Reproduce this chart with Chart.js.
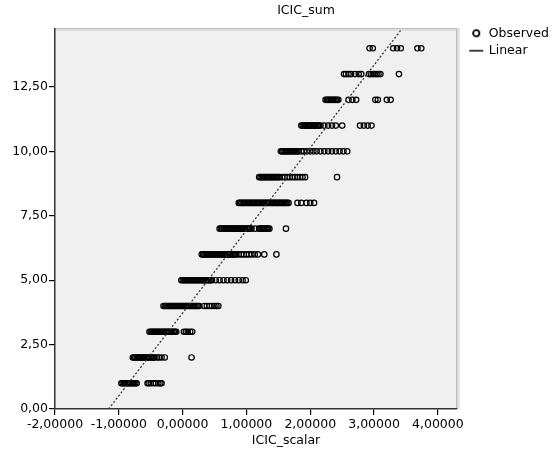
<!DOCTYPE html>
<html><head><meta charset="utf-8">
<script src="https://cdn.jsdelivr.net/npm/chart.js@4/dist/chart.umd.min.js"></script>
<style>html,body{margin:0;padding:0;background:#fff}</style>
</head><body>
<canvas id="c" width="553" height="453"></canvas>
<script>
// ---- data ----
const yLevels = [1,2,3,4,5,6,7,8,9,10,11,12,13,14];
const row1  = [-0.96,-0.94,-0.92,-0.90,-0.88,-0.86,-0.84,-0.82,-0.80,-0.78,-0.76,-0.74,-0.72,
               -0.55,-0.53,-0.50,-0.46,-0.42,-0.38,-0.35,-0.33];
const row2  = [-0.78,-0.76,-0.74,-0.72,-0.70,-0.68,-0.66,-0.64,-0.62,-0.60,-0.58,-0.56,-0.54,-0.52,-0.50,-0.48,-0.46,-0.44,
               -0.40,-0.37,-0.33,-0.28,0.14];
const row3  = [-0.52,-0.50,-0.48,-0.46,-0.44,-0.42,-0.40,-0.38,-0.36,-0.34,-0.32,-0.30,-0.28,-0.26,-0.24,-0.22,-0.20,-0.18,-0.16,-0.14,-0.12,-0.10,
               0.02,0.05,0.08,0.12,0.15];
const row4  = [-0.30,-0.28,-0.26,-0.24,-0.22,-0.20,-0.18,-0.16,-0.14,-0.12,-0.10,-0.08,-0.06,-0.04,-0.02,0.00,0.02,0.04,0.06,0.08,0.10,0.12,0.14,0.16,0.18,0.20,0.22,0.24,0.26,
               0.34,0.38,0.42,0.46,0.50,0.53,0.56];
const row5  = [-0.02,0.00,0.02,0.04,0.06,0.08,0.10,0.12,0.14,0.16,0.18,0.20,0.22,0.24,0.26,0.28,0.30,0.32,0.34,0.36,0.38,0.40,0.42,0.44,0.46,
               0.52,0.58,0.64,0.70,0.76,0.82,0.88,0.94,0.99];
const row6  = [0.30,0.32,0.34,0.36,0.38,0.40,0.42,0.44,0.46,0.48,0.50,0.52,0.54,0.56,0.58,0.60,0.62,0.64,0.66,0.68,0.70,0.72,0.74,0.76,0.78,0.80,0.82,0.84,
               0.88,0.92,0.96,1.00,1.04,1.08,1.13,1.18,1.28,1.47];
const row7  = [0.58,0.60,0.62,0.64,0.66,0.68,0.70,0.72,0.74,0.76,0.78,0.80,0.82,0.84,0.86,0.88,0.90,0.92,0.94,0.96,0.98,1.00,1.02,1.04,1.06,1.08,
               1.14,1.20,1.22,1.24,1.26,1.28,1.30,1.32,1.34,1.36,1.62];
const row8  = [0.88,0.90,0.92,0.94,0.96,0.98,1.00,1.02,1.04,1.06,1.08,1.10,1.12,1.14,1.16,1.18,1.20,1.22,1.24,1.26,1.28,1.30,1.32,1.34,1.36,1.38,1.40,
               1.42,1.44,1.46,1.48,1.50,1.52,1.54,1.56,1.58,1.60,1.62,1.64,1.66,
               1.80,1.86,1.94,2.00,2.06];
const row9  = [1.20,1.22,1.24,1.26,1.28,1.30,1.32,1.34,1.36,1.38,1.40,1.42,1.44,1.46,1.48,1.50,1.52,
               1.56,1.60,1.64,1.68,1.72,1.76,1.80,1.84,1.88,1.92,2.42];
const row10 = [1.54,1.56,1.58,1.60,1.62,1.64,1.66,1.68,1.70,1.72,1.74,1.76,1.78,1.80,1.82,
               1.86,1.90,1.95,2.00,2.05,2.10,2.16,2.22,2.28,2.34,2.40,2.46,2.52,2.58];
const row11 = [1.86,1.88,1.90,1.92,1.94,1.96,1.98,2.00,2.02,2.04,2.06,2.08,2.10,2.12,2.14,2.16,
               2.22,2.28,2.34,2.40,2.50,2.78,2.84,2.90,2.96];
const row12 = [2.24,2.26,2.28,2.30,2.32,2.34,2.36,2.38,2.40,2.42,2.44,2.60,2.66,2.72,3.02,3.06,3.20,3.26];
const row13 = [2.53,2.56,2.60,2.64,2.70,2.76,2.80,2.92,2.95,2.98,3.01,3.04,3.07,3.10,3.39];
const row14 = [2.93,2.98,3.30,3.36,3.42,3.68,3.74];
const rows = [row1,row2,row3,row4,row5,row6,row7,row8,row9,row10,row11,row12,row13,row14];

const linearX = [-1.16, 3.42];
const linearY = [0, 14.7];

const xTicks = [-2,-1,0,1,2,3,4];
const yTicks = [0,2.5,5,7.5,10,12.5];
const xRange = [-2, 4.3];
const yRange = [0, 14.75];
const xTitleText = 'ICIC_scalar';
const yTitleText = 'ICIC_sum';
const seriesNames = ['Observed','Linear'];

// ---- build ----
const observed = [];
rows.forEach((xs, i) => xs.forEach(x => observed.push({x: x, y: yLevels[i]})));
const linear = linearX.map((x, i) => ({x: x, y: linearY[i]}));

const FONT = 'DejaVu Sans';
const FS = 12.5;
Chart.defaults.font.family = FONT;
Chart.defaults.font.size = FS;
Chart.defaults.color = '#000';

function iconCircle(){
  const c = document.createElement('canvas'); c.width = 10; c.height = 10;
  const g = c.getContext('2d'); g.strokeStyle = '#000'; g.lineWidth = 1.8;
  g.beginPath(); g.arc(5,5,3.1,0,Math.PI*2); g.stroke(); return c;
}
function iconLine(){
  const c = document.createElement('canvas'); c.width = 16; c.height = 4;
  const g = c.getContext('2d'); g.strokeStyle = '#000'; g.lineWidth = 1.5;
  g.beginPath(); g.moveTo(1,2); g.lineTo(15,2); g.stroke(); return c;
}
const icons = [iconCircle(), iconLine()];

const decor = {
  id: 'decor',
  afterLayout(chart){
    const lg = chart.legend;
    if (lg) {
      lg.left = chart.chartArea.right + 8; lg.top = 22;
      lg.right = chart.width; lg.bottom = chart.height;
      lg.width = lg.right - lg.left; lg.height = lg.bottom - lg.top;
    }
  },
  beforeDraw(chart){
    const {ctx, chartArea: a} = chart;
    ctx.save();
    ctx.fillStyle = '#f0f0f1';
    ctx.fillRect(a.left, a.top, a.right - a.left, a.bottom - a.top);
    ctx.strokeStyle = '#dcdcdc'; ctx.lineWidth = 3;
    ctx.beginPath(); ctx.moveTo(a.left, a.top + 0.5); ctx.lineTo(a.right + 1, a.top + 0.5); ctx.lineTo(a.right + 1, a.bottom); ctx.stroke();
    ctx.strokeStyle = '#bdbdbd'; ctx.lineWidth = 1;
    ctx.beginPath(); ctx.moveTo(a.left, a.top - 0.5); ctx.lineTo(a.right - 0.5, a.top - 0.5); ctx.lineTo(a.right - 0.5, a.bottom); ctx.stroke();
    ctx.restore();
  },
  afterDraw(chart){
    const {ctx, chartArea: a} = chart;
    ctx.save();
    ctx.fillStyle = '#000';
    ctx.font = FS + 'px "' + FONT + '"';
    ctx.textAlign = 'center'; ctx.textBaseline = 'middle';
    ctx.fillText(yTitleText, a.left + 251, 11);
    ctx.fillText(xTitleText, a.left + 231, 441);
    ctx.restore();
  }
};

new Chart(document.getElementById('c'), {
  type: 'scatter',
  data: {
    datasets: [
      { type: 'line', label: seriesNames[1], data: linear, borderColor: '#3a3a3a', borderWidth: 1.3,
        borderDash: [2,2], pointRadius: 0, fill: false, tension: 0 },
      { label: seriesNames[0], data: observed, pointStyle: 'circle', pointRadius: 2.7,
        borderColor: '#000', borderWidth: 1.2, backgroundColor: 'rgba(0,0,0,0)' }
    ]
  },
  options: {
    responsive: false,
    animation: false,
    devicePixelRatio: 1,
    layout: { padding: { left: 0, right: 96, top: 29, bottom: 0 } },
    plugins: {
      tooltip: { enabled: false },
      title: { display: false },
      legend: {
        display: true, position: 'chartArea', align: 'start',
        labels: {
          usePointStyle: true, padding: 5, color: '#000', font: { size: FS, family: FONT },
          generateLabels: () => seriesNames.map((n, i) => ({
            text: n, pointStyle: icons[i], fillStyle: 'rgba(0,0,0,0)', strokeStyle: '#000',
            lineWidth: 0, hidden: false, datasetIndex: i === 0 ? 1 : 0
          }))
        }
      }
    },
    scales: {
      x: {
        type: 'linear', min: xRange[0], max: xRange[1],
        afterBuildTicks: s => { s.ticks = xTicks.map(v => ({value: v})); },
        afterFit: s => { s.height = 44; },
        ticks: { callback: v => v.toFixed(5).replace('.', ','), padding: 2, maxRotation: 0, autoSkip: false, color: '#000' },
        grid: { drawOnChartArea: false, drawTicks: true, tickLength: 6, color: '#000', lineWidth: 1.2 },
        border: { display: true, color: '#333', width: 1.5 }
      },
      y: {
        type: 'linear', min: yRange[0], max: yRange[1],
        afterBuildTicks: s => { s.ticks = yTicks.map(v => ({value: v})); },
        afterFit: s => { s.width = 55; },
        ticks: { callback: v => v.toFixed(2).replace('.', ','), padding: 1, autoSkip: false, color: '#000' },
        grid: { drawOnChartArea: false, drawTicks: true, tickLength: 6, color: '#000', lineWidth: 1.2 },
        border: { display: true, color: '#333', width: 1.5 }
      }
    }
  },
  plugins: [decor]
});
</script>
</body></html>
